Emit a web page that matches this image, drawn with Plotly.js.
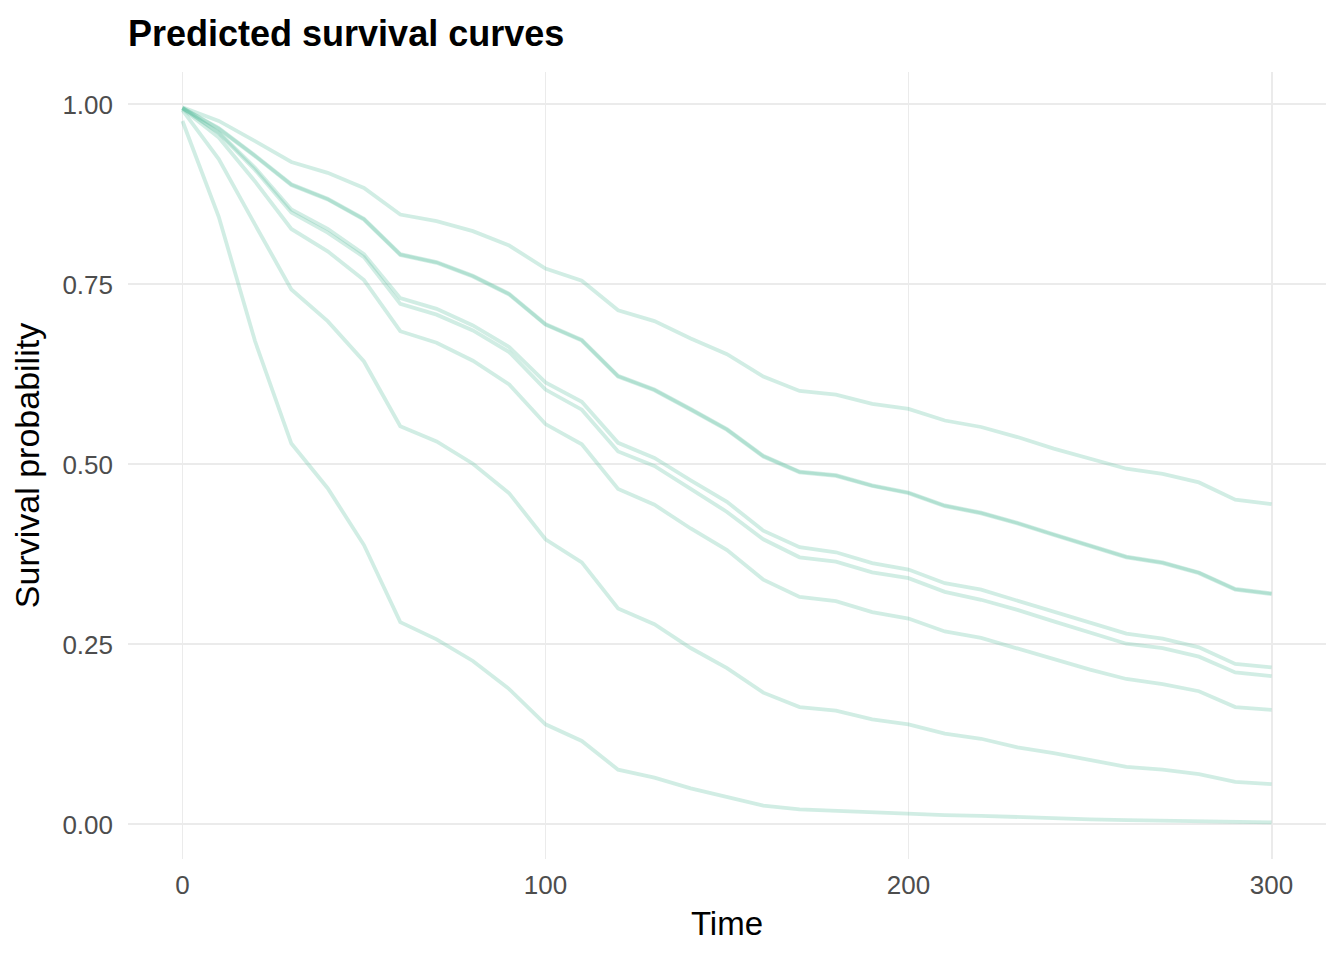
<!DOCTYPE html>
<html>
<head>
<meta charset="utf-8">
<script src="https://cdn.plot.ly/plotly-3.0.1.min.js"></script>
<style>
  html, body { margin: 0; padding: 0; background: #fff; }
  #myDiv { width: 1344px; height: 960px; }
</style>
</head>
<body>
<div id="myDiv"></div>
<script>
// time grid (every 10 units)
let times = [0,10,20,30,40,50,60,70,80,90,100,110,120,130,140,150,160,170,180,190,200,210,220,230,240,250,260,270,280,290,300];

// predicted survival per subject
let survA = [0.996,0.977,0.949,0.920,0.905,0.884,0.847,0.838,0.824,0.804,0.772,0.755,0.714,0.699,0.675,0.653,0.622,0.602,0.597,0.584,0.577,0.561,0.552,0.538,0.522,0.508,0.494,0.487,0.475,0.451,0.445];
let survB = [0.995,0.967,0.929,0.889,0.869,0.841,0.792,0.781,0.762,0.737,0.695,0.673,0.623,0.604,0.577,0.549,0.512,0.490,0.485,0.471,0.461,0.443,0.433,0.419,0.403,0.387,0.372,0.364,0.350,0.327,0.321];
let survC = [0.995,0.966,0.928,0.888,0.868,0.840,0.791,0.780,0.761,0.736,0.694,0.672,0.622,0.603,0.576,0.548,0.511,0.489,0.484,0.470,0.460,0.442,0.432,0.418,0.402,0.386,0.371,0.363,0.349,0.326,0.320];
let survD = [0.995,0.961,0.912,0.854,0.827,0.792,0.731,0.716,0.693,0.663,0.614,0.587,0.530,0.509,0.478,0.448,0.408,0.385,0.378,0.363,0.354,0.335,0.326,0.311,0.295,0.280,0.265,0.258,0.246,0.223,0.218];
let survE = [0.995,0.960,0.909,0.850,0.822,0.788,0.723,0.708,0.686,0.656,0.604,0.576,0.518,0.498,0.466,0.434,0.396,0.371,0.365,0.350,0.342,0.323,0.312,0.298,0.282,0.266,0.251,0.245,0.233,0.211,0.206];
let survF = [0.994,0.954,0.893,0.827,0.796,0.756,0.685,0.669,0.644,0.611,0.556,0.528,0.466,0.444,0.411,0.381,0.340,0.316,0.310,0.295,0.286,0.268,0.259,0.244,0.229,0.215,0.202,0.195,0.185,0.163,0.159];
let survG = [0.992,0.924,0.833,0.743,0.699,0.643,0.553,0.532,0.501,0.460,0.396,0.364,0.300,0.278,0.245,0.217,0.183,0.163,0.158,0.146,0.139,0.126,0.119,0.107,0.099,0.090,0.080,0.076,0.070,0.059,0.056];
let survH = [0.977,0.844,0.671,0.529,0.467,0.388,0.281,0.257,0.227,0.188,0.139,0.116,0.076,0.065,0.050,0.038,0.026,0.021,0.019,0.016,0.015,0.013,0.012,0.010,0.008,0.007,0.006,0.005,0.004,0.003,0.003];

let curves = [survA, survB, survC, survD, survE, survF, survG, survH];

let xTicks = [0, 100, 200, 300];
let yTicks = [0, 0.25, 0.5, 0.75, 1];
let yTickText = ["0.00", "0.25", "0.50", "0.75", "1.00"];

let fontFam = '"Liberation Sans", Arial, sans-serif';

function createPlot(){
  let traces = [];
  for (let i = 0; i < curves.length; i++) {
    traces[i] = {
      x : times,
      y : curves[i],
      mode : 'lines',
      line : { color: 'rgba(102,194,165,0.3)', width: 3.8 },
      hoverinfo : 'skip',
      showlegend : false
    };
  }

  var layout = {
    width: 1344,
    height: 960,
    margin: { l: 128, r: 18, t: 72, b: 101 },
    paper_bgcolor: '#ffffff',
    plot_bgcolor: '#ffffff',
    font: { family: fontFam, color: '#000000' },
    title: {
      text: 'Predicted survival curves',
      font: { family: fontFam, size: 36, weight: 'bold', color: '#000000' },
      xref: 'paper', x: 0, xanchor: 'left',
      yref: 'container', y: 1 - 33 / 960, yanchor: 'middle'
    },
    xaxis: {
      range: [-15, 315],
      tickvals: xTicks,
      ticks: '',
      ticklabelstandoff: 8,
      tickfont: { family: fontFam, size: 26, color: '#4d4d4d' },
      showgrid: true, gridcolor: '#ebebeb', gridwidth: 1.9,
      zeroline: false, showline: false,
      title: { text: 'Time', font: { family: fontFam, size: 33, color: '#000000' }, standoff: 12 }
    },
    yaxis: {
      range: [-0.048, 1.045],
      tickvals: yTicks,
      ticktext: yTickText,
      ticks: '',
      ticklabelstandoff: 14,
      tickfont: { family: fontFam, size: 26, color: '#4d4d4d' },
      showgrid: true, gridcolor: '#ebebeb', gridwidth: 1.9,
      zeroline: false, showline: false,
      title: { text: 'Survival probability', font: { family: fontFam, size: 34, color: '#000000' }, standoff: 12 }
    }
  };

  Plotly.newPlot('myDiv', traces, layout, { staticPlot: true, displayModeBar: false });
}

createPlot();
</script>
</body>
</html>
